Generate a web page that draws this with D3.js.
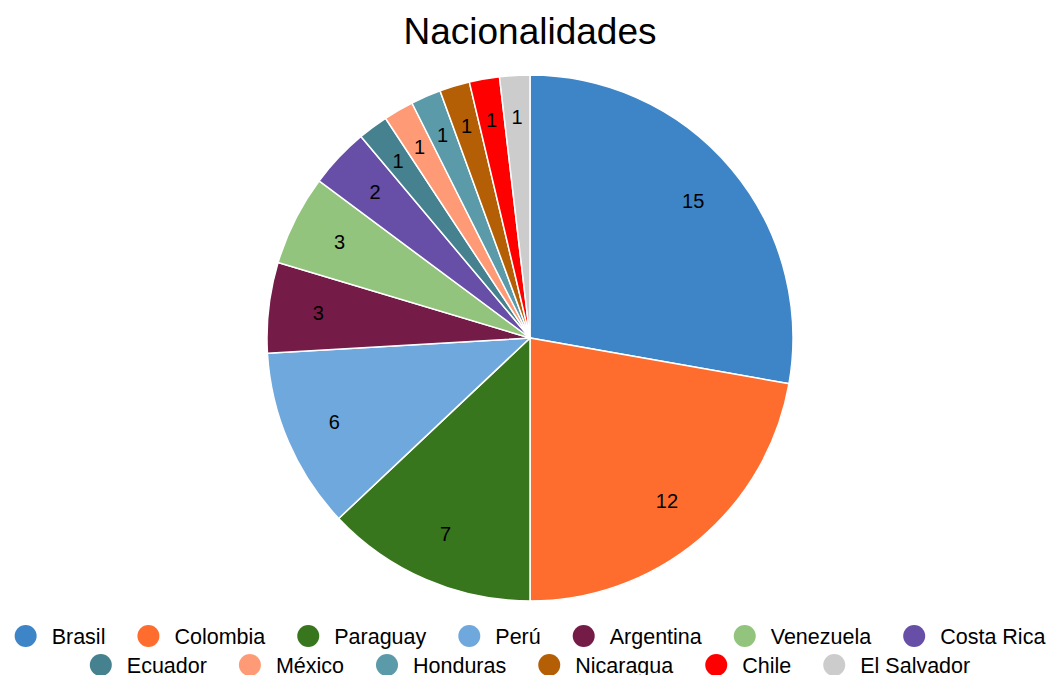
<!DOCTYPE html>
<html>
<head>
<meta charset="utf-8">
<script src="https://cdn.jsdelivr.net/npm/d3@7"></script>
<style>
  body { margin: 0; background: #fff; }
  svg { font-family: Arial, "Liberation Sans", sans-serif; }
</style>
</head>
<body>
<div id="chartArea"></div>
<script>
var paises = ['Brasil', 'Colombia', 'Paraguay', 'Perú', 'Argentina', 'Venezuela', 'Costa Rica',
  'Ecuador', 'México', 'Honduras', 'Nicaragua', 'Chile', 'El Salvador']
var cantidades = [15, 12, 7, 6, 3, 3, 2, 1, 1, 1, 1, 1, 1]
var colores = ['#3d85c6', '#ff6d2e', '#38761d', '#6fa8dc', '#741b47', '#93c47d', '#674ea7',
  '#45818e', '#ff9a76', '#5b9aa9', '#b45f06', '#ff0000', '#cccccc']
var legendRows = [7, 6]

var width = 1053, height = 675
var radius = 263
var cx = 530, cy = 338

var svg = d3.select('#chartArea')
  .append('svg')
  .attr('width', width)
  .attr('height', height)

svg.append('text')
  .attr('x', cx)
  .attr('y', 44)
  .attr('text-anchor', 'middle')
  .style('font-size', '37px')
  .text('Nacionalidades')

var data = paises.map(function (p, i) { return { name: p, val: cantidades[i] } })

var color = d3.scaleOrdinal().domain(paises).range(colores)

var pie = d3.pie().sort(null).value(function (d) { return d.val })
var arcPath = d3.arc().innerRadius(0).outerRadius(radius)
var labelArc = d3.arc().innerRadius(radius * 0.81).outerRadius(radius * 0.81)
var smallArc = d3.arc().innerRadius(radius * 0.84).outerRadius(radius * 0.84)

var g = svg.append('g').attr('transform', 'translate(' + cx + ',' + cy + ')')

var arcs = g.selectAll('g.slice')
  .data(pie(data))
  .enter()
  .append('g')
  .attr('class', 'slice')

arcs.append('path')
  .attr('d', arcPath)
  .attr('fill', function (d) { return color(d.data.name) })
  .attr('stroke', '#fff')
  .attr('stroke-width', 1.5)

arcs.append('text')
  .attr('transform', function (d) {
    var a = d.data.val == 1 ? smallArc : labelArc
    return 'translate(' + a.centroid(d) + ')'
  })
  .attr('text-anchor', 'middle')
  .attr('dy', '.35em')
  .style('font-size', '20px')
  .text(function (d) { return d.data.val })

// legend, two centered rows
var legend = svg.append('g')
var idx = 0
legendRows.forEach(function (n, r) {
  var row = legend.append('g')
  var x = 0
  for (var k = 0; k < n; k++, idx++) {
    var item = row.append('g').attr('transform', 'translate(' + x + ',0)')
    item.append('circle').attr('cx', 11).attr('cy', 0).attr('r', 11)
      .attr('fill', color(paises[idx]))
    var t = item.append('text').attr('x', 37).attr('dy', '.35em')
      .style('font-size', '21.5px').text(paises[idx])
    x += 37 + t.node().getComputedTextLength() + 32
  }
  x -= 32
  row.attr('transform', 'translate(' + (cx - x / 2) + ',' + (636 + r * 29) + ')')
})
</script>
</body>
</html>
